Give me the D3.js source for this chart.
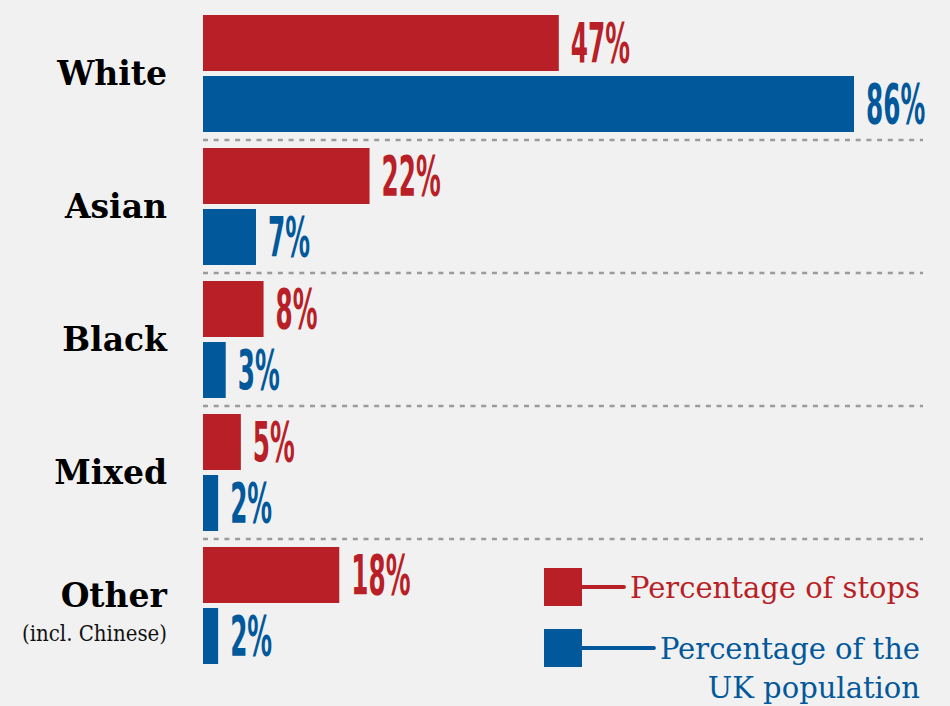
<!DOCTYPE html>
<html>
<head>
<meta charset="utf-8">
<script src="https://cdn.jsdelivr.net/npm/d3@7"></script>
<style>
    html, body { margin: 0; padding: 0; background: #f1f1f1; }
    svg { display: block; }
</style>
</head>
<body>
<svg id="chart"></svg>
<script>
// Chart data
const categories = ['White', 'Asian', 'Black', 'Mixed', 'Other'];
const subLabels = ['', '', '', '', '(incl. Chinese)'];
const stops = [47, 22, 8, 5, 18];
const population = [86, 7, 3, 2, 2];

const width = 950;
const height = 706;
const red = '#b81f26';
const blue = '#01589b';

const svg = d3.select('#chart')
    .attr('width', width)
    .attr('height', height);

// Scales
const xScale = d3.scaleLinear()
    .domain([0, 100])
    .range([203, 960]);

const yScale = d3.scaleBand()
    .domain(categories)
    .range([10, 10 + 133 * categories.length]);

const inner = d3.scaleBand()
    .domain(['stops', 'population'])
    .range([5, 122])
    .paddingInner(5 / 61);

const rows = categories.map((c, i) => ({
    name: c,
    sub: subLabels[i],
    values: [
        { key: 'stops', value: stops[i], color: red },
        { key: 'population', value: population[i], color: blue }
    ]
}));

// Dashed separators
svg.selectAll('.sep')
    .data(categories.slice(0, -1))
    .enter()
    .append('line')
    .attr('class', 'sep')
    .attr('x1', xScale(0))
    .attr('x2', 923)
    .attr('y1', d => yScale(d) + 130)
    .attr('y2', d => yScale(d) + 130)
    .attr('stroke', '#9b9b9b')
    .attr('stroke-width', 2.5)
    .attr('stroke-dasharray', '5,5.7');

const groups = svg.selectAll('.group')
    .data(rows)
    .enter()
    .append('g')
    .attr('class', 'group')
    .attr('transform', d => `translate(0,${yScale(d.name)})`);

// Bars
groups.selectAll('rect')
    .data(d => d.values)
    .enter()
    .append('rect')
    .attr('x', xScale(0))
    .attr('y', d => inner(d.key))
    .attr('width', d => xScale(d.value) - xScale(0))
    .attr('height', inner.bandwidth())
    .attr('fill', d => d.color);

// Value labels (condensed)
groups.selectAll('.val')
    .data(d => d.values)
    .enter()
    .append('text')
    .attr('class', 'val')
    .attr('transform', d => `translate(${xScale(d.value) + 12},${inner(d.key) + inner.bandwidth() / 2 + 19}) scale(0.5,1)`)
    .attr('fill', d => d.color)
    .style('font-family', '"Liberation Sans Narrow", "DejaVu Sans Condensed", sans-serif')
    .style('font-weight', 'bold')
    .style('font-size', '55px')
    .text(d => d.value + '%');

// Category labels
groups.append('text')
    .attr('x', 167)
    .attr('y', d => d.sub ? 65 : 75)
    .attr('text-anchor', 'end')
    .style('font-family', '"DejaVu Serif", serif')
    .style('font-weight', 'bold')
    .style('font-size', '33px')
    .attr('fill', '#000')
    .text(d => d.name);

groups.filter(d => d.sub)
    .append('text')
    .attr('x', 167)
    .attr('y', 99)
    .attr('text-anchor', 'end')
    .style('font-family', '"DejaVu Serif Condensed", "DejaVu Serif", serif')
    .style('font-size', '22px')
    .attr('fill', '#111')
    .text(d => d.sub);

// Legend
const legendItems = [
    { lines: ['Percentage of stops'], color: red, y: 568 },
    { lines: ['Percentage of the', 'UK population'], color: blue, y: 629 }
];

const legend = svg.selectAll('.legend')
    .data(legendItems)
    .enter()
    .append('g')
    .attr('class', 'legend');

legend.append('rect')
    .attr('x', 544)
    .attr('y', d => d.y)
    .attr('width', 38)
    .attr('height', 38)
    .attr('fill', d => d.color);

legend.each(function(d) {
    const g = d3.select(this);
    const txt = g.append('text')
        .attr('text-anchor', 'end')
        .attr('fill', d.color)
        .style('font-family', '"DejaVu Serif", serif')
        .style('font-size', '29px');
    d.lines.forEach((l, i) => {
        txt.append('tspan')
            .attr('x', 920)
            .attr('y', d.y + 30 + i * 39)
            .text(l);
    });
    const firstLen = txt.select('tspan').node().getComputedTextLength();
    g.append('line')
        .attr('x1', 582)
        .attr('x2', 920 - firstLen - 6)
        .attr('y1', d.y + 19)
        .attr('y2', d.y + 19)
        .attr('stroke', d.color)
        .attr('stroke-width', 4)
        .attr('stroke-linecap', 'round');
});
</script>
</body>
</html>
